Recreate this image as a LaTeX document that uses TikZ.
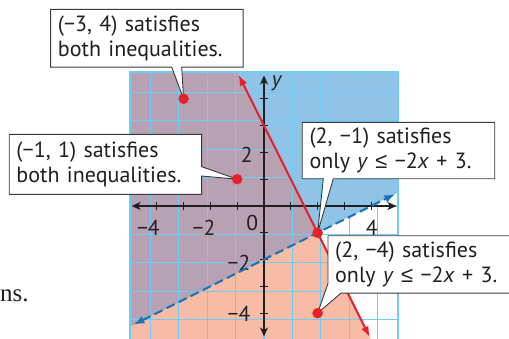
\documentclass[tikz,border=0pt]{standalone}
\usepackage{fontspec}
\setmainfont{PT Sans}
\newfontfamily\serifnote{Liberation Serif}
\newfontfamily\symf{Liberation Sans}
\usetikzlibrary{calc,arrows.meta}
\definecolor{purp}{HTML}{B8A1B3}
\definecolor{bluereg}{HTML}{8FC4E8}
\definecolor{pinkreg}{HTML}{F7BCA6}
\definecolor{gridc}{HTML}{6ECDF5}
\definecolor{redl}{HTML}{E8202A}
\definecolor{bluel}{HTML}{1C75BC}
\definecolor{axisc}{HTML}{231F20}
\definecolor{boxc}{HTML}{3A3A3A}
\pgfdeclarelayer{back}
\pgfdeclarelayer{mid}
\pgfdeclarelayer{front}
\pgfsetlayers{back,mid,main,front}
\newcommand{\leqsym}{{\symf ≤}}
\begin{document}
\begin{tikzpicture}[x=26.8pt,y=26.8pt,
 lbl/.style={font=\fontsize{21.5}{24}\selectfont, text=axisc, inner sep=0pt},
 callout/.style={anchor=north west, minimum width=191.7pt, text width=178pt, inner xsep=7pt, inner ysep=0pt, align=left, font=\fontsize{22}{24.5}\selectfont, text=axisc},
 calloutline/.style={draw=boxc, line width=0.9pt, fill=white, line join=miter},
 dot/.style={circle, fill=redl, minimum size=10.5pt, inner sep=0pt},
 axisline/.style={axisc, line width=1.4pt, {Stealth[length=9pt,width=8pt,inset=2.5pt]}-{Stealth[length=9pt,width=8pt,inset=2.5pt]}},
 tickmark/.style={axisc, line width=1.2pt},
]
\useasboundingbox (-264pt,-132pt) rectangle (245pt,206pt);

% ---------- graph (background layer)
\begin{pgfonlayer}{back}
\begin{scope}
\clip (-5,-5) rectangle (5,5);
\fill[white] (-5,-5) rectangle (5,5);
\fill[bluereg] (-5,-4.5) -- (5,0.5) -- (5,5) -- (-5,5) -- cycle;
\fill[pinkreg] (-1,5) -- (4,-5) -- (-5,-5) -- (-5,5) -- cycle;
\fill[purp] (-5,-4.5) -- (2,-1) -- (-1,5) -- (-5,5) -- cycle;
\draw[gridc, line width=1.1pt] (-5,-5) grid (5,5);
\end{scope}
\draw[gridc, line width=2.5pt] (-5,-5) rectangle (5,5);

\coordinate (xl) at (-4.94,0);
\coordinate (xr) at (4.94,0);
\coordinate (yb) at (0,-4.87);
\coordinate (yt) at (0,4.87);
\draw[axisline] (xl) -- (xr);
\draw[axisline] (yb) -- (yt);
\foreach \i in {-4,-3,-2,-1,1,2,3,4} {
  \draw[tickmark] (\i,-4pt) -- (\i,4pt);
  \draw[tickmark] (-4pt,\i) -- (4pt,\i);
}
\node[lbl] (lxm4) at (-115.7pt,-21.5pt) {−4};
\node[lbl] (lxm2) at (-60pt,-21.5pt) {−2};
\node[lbl] (l0) at (-11.7pt,-16.7pt) {0};
\node[lbl] (lx4) at (107.7pt,-21.5pt) {4};
\node[lbl] (ly2) at (-17.3pt,51pt) {2};
\node[lbl] (lym2) at (-25pt,-56.7pt) {−2};
\node[lbl] (lym4) at (-25pt,-108pt) {−4};
\node[lbl] (ly) at (12.7pt,122.7pt) {\itshape y};

\coordinate (rt) at (-0.95,4.9);
\coordinate (rb) at (3.95,-4.9);
\draw[redl, line width=2.1pt, {Latex[length=11pt,width=8pt]}-{Latex[length=11pt,width=8pt]}] (rt) -- (rb);
\coordinate (bl) at (-4.87,-4.43);
\coordinate (br) at (4.9,0.45);
\draw[bluel, line width=2.1pt, dash pattern=on 9pt off 4.5pt, {Latex[length=11pt,width=8pt]}-{Latex[length=11pt,width=8pt]}] (bl) -- (br);
\end{pgfonlayer}

% ---------- points
\coordinate (p1) at (-3,4);
\coordinate (p2) at (-1,1);
\coordinate (p3) at (2,-1);
\coordinate (p4) at (2,-4);

% ---------- callouts
\node[callout, minimum height=57.4pt] (b1) at (-213.3pt,196.7pt) {(−3, 4) satisfies\\both inequalities.};
\node[callout, minimum height=59.7pt] (b2) at (-254.7pt,71.7pt) {(−1, 1) satisfies\\both inequalities.};
\node[callout, minimum height=56pt] (b3) at (38.3pt,83.7pt) {(2, −1) satisfies\\only \textit{y} \leqsym{} −2\textit{x} + 3.};
\node[callout, minimum height=57pt] (b4) at (64pt,-29.7pt) {(2, −4) satisfies\\only \textit{y} \leqsym{} −2\textit{x} + 3.};

\begin{pgfonlayer}{mid}
\draw[calloutline] (b1.north west) -- (b1.north east) -- (b1.south east)
  -- ($(b1.south west)+(131pt,0)$) -- (p1) -- ($(b1.south west)+(121pt,0)$) -- (b1.south west) -- cycle;
\draw[calloutline] (b2.north west) -- (b2.north east) -- ($(b2.north east)+(0,-32.4pt)$)
  -- (p2) -- ($(b2.north east)+(0,-41.7pt)$) -- (b2.south east) -- (b2.south west) -- cycle;
\draw[calloutline] (b3.north west) -- (b3.north east) -- (b3.south east)
  -- ($(b3.south west)+(31pt,0)$) -- (p3) -- ($(b3.south west)+(21pt,0)$) -- (b3.south west) -- cycle;
\draw[calloutline] (b4.north west) -- (b4.north east) -- (b4.south east)
  -- ($(b4.south west)+(13pt,0)$) -- (p4) -- ($(b4.south west)+(0,9.7pt)$) -- cycle;
\end{pgfonlayer}

\begin{pgfonlayer}{front}
\node[dot] (d1) at (p1) {};
\node[dot] (d2) at (p2) {};
\node[dot] (d3) at (p3) {};
\node[dot] (d4) at (p4) {};
\end{pgfonlayer}

\node[font=\serifnote\fontsize{25}{30}\selectfont, text=axisc, anchor=base west, inner sep=0pt] (ns) at (-264pt,-95.7pt) {ns.};
\end{tikzpicture}
\end{document}
